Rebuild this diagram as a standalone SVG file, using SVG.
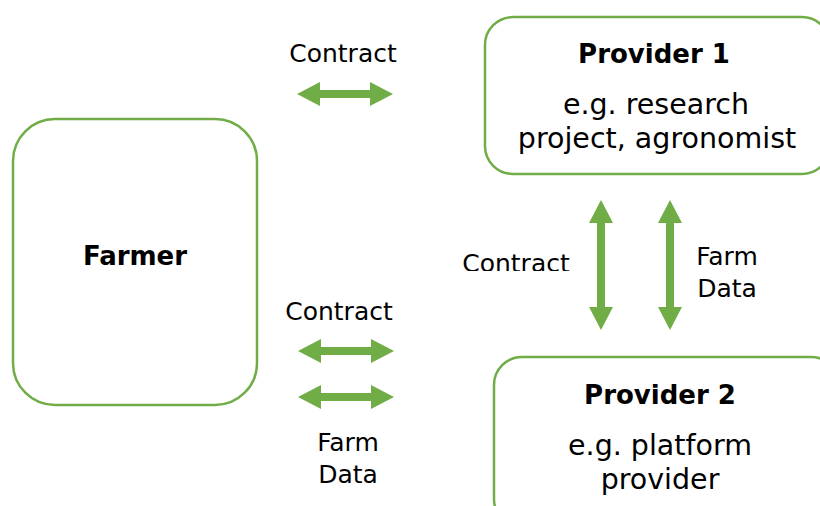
<svg xmlns="http://www.w3.org/2000/svg" width="820" height="506" viewBox="0 0 820 506">
  <defs>
    <style>
      .box { fill: #ffffff; stroke: #70ad47; stroke-width: 2.5; }
      .arrow { fill: #70ad47; }
      text { font-family: "DejaVu Sans", "Open Sans", sans-serif; fill: #000000; text-anchor: middle; }
      .title { font-size: 26px; font-weight: bold; }
      .body { font-size: 28.5px; }
      .label { font-size: 25px; }
    </style>
    <!-- double-headed arrow, horizontal, centred on origin, 96 long -->
    <polygon id="dbl" points="-48,0 -25,-12 -25,-4 25,-4 25,-12 48,0 25,12 25,4 -25,4 -25,12"/>
    <!-- double-headed arrow, vertical, 130 long -->
    <polygon id="dblv" points="0,-65 12,-42 4,-42 4,42 12,42 0,65 -12,42 -4,42 -4,-42 -12,-42"/>
    <clipPath id="cut">
      <rect x="440" y="230" width="150" height="41"/>
    </clipPath>
  </defs>
  <rect width="820" height="506" fill="#ffffff"/>

  <g id="farmer">
    <rect class="box" x="13" y="119" width="244" height="286" rx="42"/>
    <text class="title" x="135" y="265">Farmer</text>
  </g>

  <g id="provider1">
    <rect class="box" x="485" y="17" width="345" height="157" rx="28"/>
    <text class="title" x="654" y="63">Provider 1</text>
    <text class="body" x="656" y="114">e.g. research</text>
    <text class="body" x="657" y="148">project, agronomist</text>
  </g>

  <g id="provider2">
    <rect class="box" x="494" y="357" width="345" height="170" rx="28"/>
    <text class="title" x="660" y="404">Provider 2</text>
    <text class="body" x="660" y="455">e.g. platform</text>
    <text class="body" x="660" y="489">provider</text>
  </g>

  <g id="connectors">
    <use href="#dbl" class="arrow" x="345" y="94"/>
    <use href="#dbl" class="arrow" x="346" y="351"/>
    <use href="#dbl" class="arrow" x="346" y="397"/>
    <use href="#dblv" class="arrow" x="601" y="265"/>
    <use href="#dblv" class="arrow" x="670" y="265"/>
    <text class="label" x="343" y="62">Contract</text>
    <text class="label" x="339" y="320">Contract</text>
    <text class="label" x="348" y="451">Farm</text>
    <text class="label" x="348" y="483">Data</text>
    <text class="label" x="516" y="272" clip-path="url(#cut)">Contract</text>
    <text class="label" x="727" y="265">Farm</text>
    <text class="label" x="727" y="297">Data</text>
  </g>
</svg>
